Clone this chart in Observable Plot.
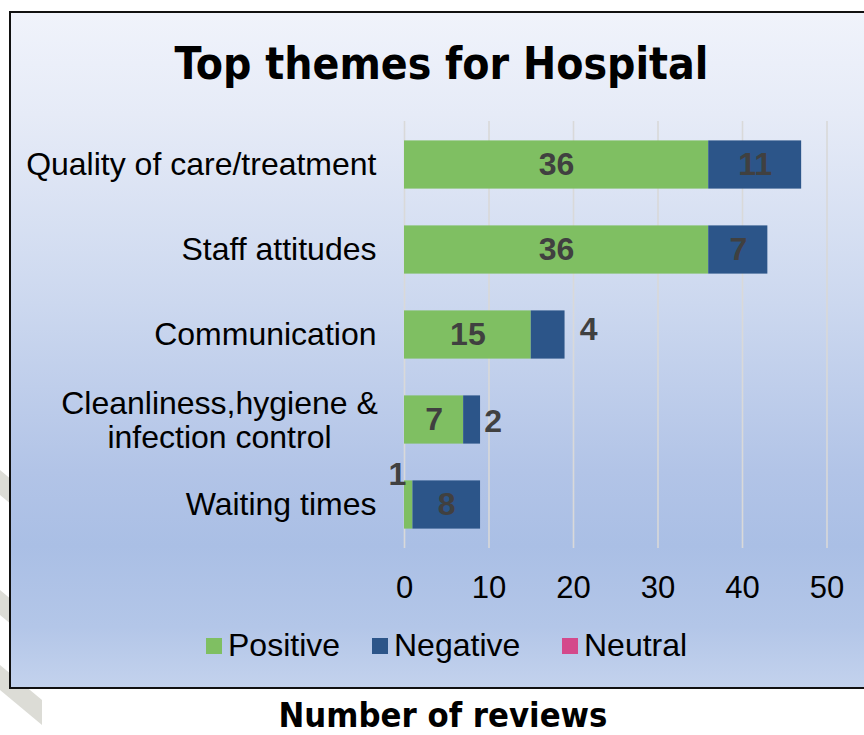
<!DOCTYPE html>
<html><head><meta charset="utf-8">
<script src="https://cdn.jsdelivr.net/npm/d3@7"></script>
<script src="https://cdn.jsdelivr.net/npm/@observablehq/plot@0.6"></script>
<style>
html,body{margin:0;padding:0;background:#fff;width:864px;height:735px;overflow:hidden;position:relative;font-family:"Liberation Sans",Arial,sans-serif;}
#wm{position:absolute;left:0;top:0;z-index:0;}
#box{position:absolute;left:9px;top:11px;width:900px;height:678px;box-sizing:border-box;border:2px solid #111;z-index:1;
 background:linear-gradient(to bottom,#f0f3fb 0%,#e6ebf7 15%,#ccd8ef 43%,#b2c4e7 68%,#aabfe5 79%,#b3c6e8 91%,#c3d2ed 100%);}
#plot{position:absolute;left:0;top:0;z-index:2;}
#overlay{position:absolute;left:0;top:0;z-index:3;}
.sw{position:absolute;width:16px;height:16px;z-index:3;}
.lt{position:absolute;font-size:32px;line-height:32px;color:#000;z-index:3;white-space:nowrap;}
</style></head>
<body>
<svg id="wm" width="864" height="735"></svg>
<div id="box"></div>
<div id="plot"></div>
<svg id="overlay" width="864" height="735"></svg>
<script>
// ---- data ----
const title = "Top themes for Hospital";
const xLabel = "Number of reviews";
const themes = ["Quality of care/treatment", "Staff attitudes", "Communication", "Cleanliness,hygiene &\ninfection control", "Waiting times"];
const sentiments = ["Positive", "Negative", "Neutral"];
const positive = [36, 36, 15, 7, 1];
const negative = [11, 7, 4, 2, 8];
const neutral = [0, 0, 0, 0, 0];
const xTicks = [0, 10, 20, 30, 40, 50];

// ---- styles ----
const colors = ["#7fbf62", "#2c5589", "#d4498b"];
const labelColor = "#404040";
const font = "'Liberation Sans', Arial, sans-serif";

const series = [positive, negative, neutral];
const data = themes.flatMap((t, i) => sentiments.map((s, j) => ({theme: t, sentiment: s, count: series[j][i]})));

// outside-label placements (pixel offsets only)
function outside(i, value, xEnd, dx, dy) {
  return Plot.text([{theme: themes[i], v: value, e: xEnd}], {
    x: "e", y: "theme", text: d => String(d.v), dx, dy,
    fill: labelColor, fontWeight: "bold", fontSize: 32, fontFamily: font
  });
}

const chart = Plot.plot({
  width: 864, height: 610,
  marginLeft: 404, marginRight: 37.5, marginTop: 121, marginBottom: 62,
  style: {background: "transparent", fontFamily: font, overflow: "visible", color: "#000"},
  x: {domain: [0, 50], ticks: xTicks, label: null},
  y: {domain: themes, padding: 0, label: null},
  color: {domain: sentiments, range: colors},
  marks: [
    Plot.gridX(xTicks, {stroke: "#d9d9d9", strokeOpacity: 1, strokeWidth: 1.6}),
    Plot.axisX({ticks: xTicks, tickSize: 0, tickPadding: 27, fontSize: 31, fill: "#000", label: null}),
    Plot.axisY({tickSize: 0, tickPadding: 28, fontSize: 32, fill: "#000", label: null,
      tickFormat: t => t.includes("\n") ? "" : t}),
    Plot.text([{theme: themes[3]}], {x: () => 0, y: "theme", text: "theme", dx: -185, textAnchor: "middle",
      lineHeight: 1.05, fontSize: 32, fill: "#000", fontFamily: font}),
    Plot.barX(data, {y: "theme", x: "count", fill: "sentiment", insetTop: 18.4, insetBottom: 18.4}),
    Plot.text(data, Plot.stackX({y: "theme", x: "count", z: "sentiment",
      text: d => d.count >= 5 ? String(d.count) : null,
      fill: labelColor, fontWeight: "bold", fontSize: 32, fontFamily: font})),
    outside(2, negative[2], positive[2] + negative[2], 23.5, -5),
    outside(3, negative[3], positive[3] + negative[3], 12.5, 1.5),
    outside(4, positive[4], 0, -7, -30)
  ]
});
document.getElementById("plot").appendChild(chart);

// ---- title & axis title ----
const ov = d3.select("#overlay");
function fitText(sel, target) {
  const len = sel.node().getComputedTextLength();
  const fs = parseFloat(sel.attr("font-size"));
  sel.attr("font-size", fs * target / len);
}
const t1 = ov.append("text").attr("x", 441.5).attr("y", 79).attr("text-anchor", "middle")
  .attr("font-family", "'DejaVu Sans Condensed', 'DejaVu Sans', sans-serif").attr("font-weight", "bold")
  .attr("font-stretch", "condensed").attr("font-size", 44).attr("fill", "#000").text(title);
fitText(t1, 534);
const t2 = ov.append("text").attr("x", 443).attr("y", 727).attr("text-anchor", "middle")
  .attr("font-family", "'DejaVu Sans Condensed', 'DejaVu Sans', sans-serif").attr("font-weight", "bold")
  .attr("font-stretch", "condensed").attr("font-size", 32).attr("fill", "#000").text(xLabel);
fitText(t2, 329);

// ---- legend ----
const swX = [206, 372, 562];
sentiments.forEach((s, i) => {
  const sw = document.createElement("div");
  sw.className = "sw"; sw.style.left = swX[i] + "px"; sw.style.top = "638px"; sw.style.background = colors[i];
  document.body.appendChild(sw);
  const lt = document.createElement("div");
  lt.className = "lt"; lt.style.left = (swX[i] + 22) + "px"; lt.style.top = "629px"; lt.textContent = s;
  document.body.appendChild(lt);
});

// ---- faint background watermark stripes (behind the chart box) ----
const wm = d3.select("#wm");
[470, 590, 665].forEach(y0 => {
  wm.append("polygon")
    .attr("points", [[-30, y0 - 25], [-30, y0], [42, y0 + 60], [42, y0 + 35]].map(p => p.join(",")).join(" "))
    .attr("fill", "#dcdcd6");
});
</script>
</body></html>
